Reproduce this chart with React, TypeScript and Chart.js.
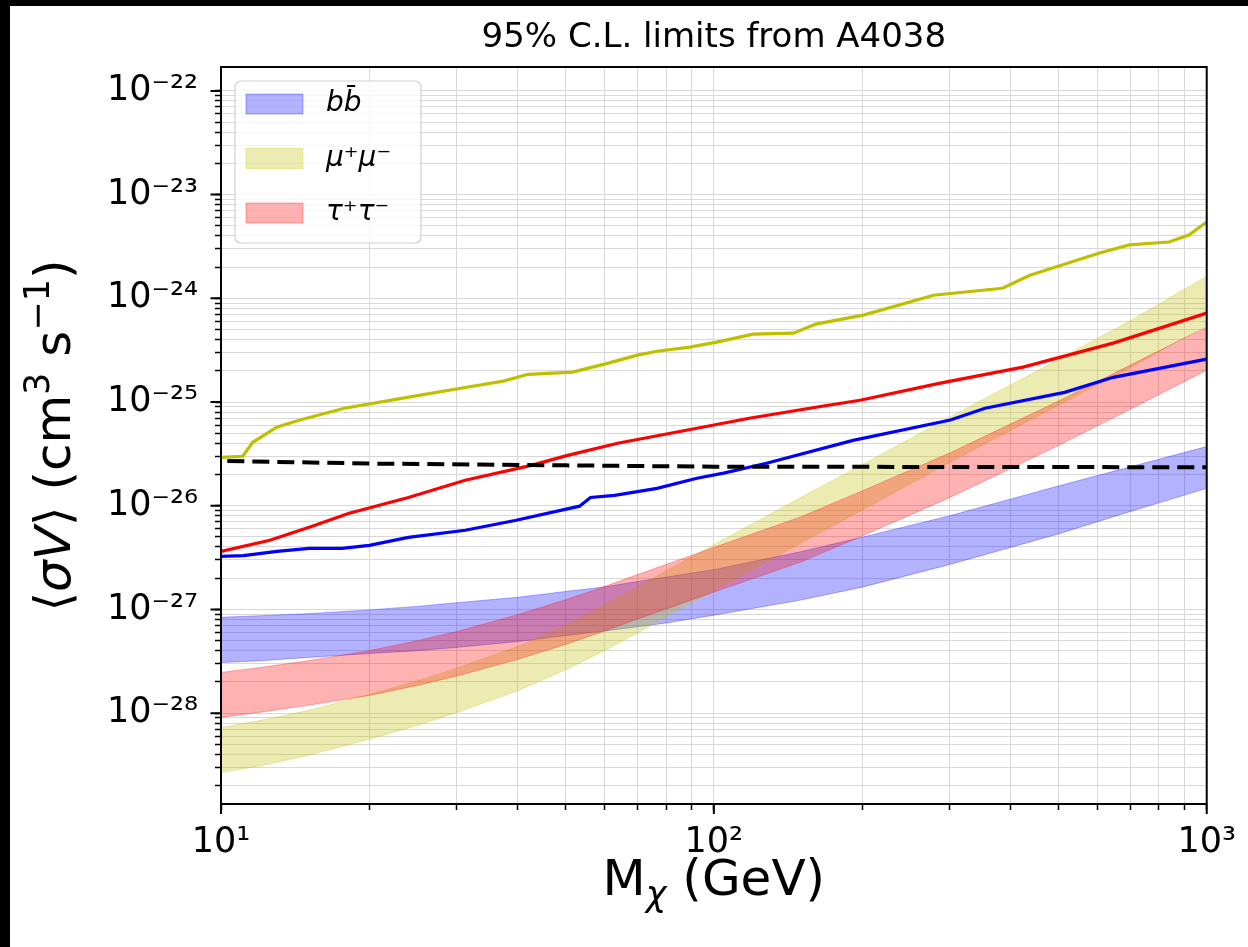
import React, { useEffect, useRef } from 'react';
import { Chart, registerables } from 'chart.js';

Chart.register(...registerables);

// ---------- data ----------
const bandMass = [10, 12, 15, 20, 25, 30, 40, 50, 60, 70, 80, 100, 150, 200, 300, 500, 700, 1000];
const bbBandHigh = [8.4e-28, 8.7e-28, 9.1e-28, 9.9e-28, 1.07e-27, 1.16e-27, 1.31e-27, 1.49e-27, 1.65e-27, 1.86e-27, 2.05e-27, 2.42e-27, 3.6e-27, 4.97e-27, 7.97e-27, 1.55e-26, 2.37e-26, 3.72e-26];
const bbBandLow = [3.08e-28, 3.2e-28, 3.44e-28, 3.76e-28, 4.0e-28, 4.3e-28, 4.9e-28, 5.6e-28, 6.2e-28, 6.8e-28, 7.4e-28, 8.8e-28, 1.23e-27, 1.64e-27, 2.7e-27, 5.35e-27, 8.8e-27, 1.47e-26];
const muBandHigh = [7.26e-29, 8.5e-29, 1.06e-28, 1.51e-28, 2.04e-28, 2.7e-28, 4.4e-28, 7.0e-28, 1.1e-27, 1.65e-27, 2.35e-27, 4.2e-27, 1.2e-26, 2.49e-26, 7.1e-26, 2.57e-25, 6.1e-25, 1.63e-24];
const muBandLow = [2.67e-29, 3.1e-29, 3.9e-29, 5.6e-29, 7.6e-29, 1.01e-28, 1.64e-28, 2.6e-28, 4.0e-28, 5.94e-28, 8.5e-28, 1.52e-27, 4.35e-27, 9.1e-27, 2.6e-26, 9.3e-26, 2.15e-25, 5.5e-25];
const tauBandHigh = [2.47e-28, 2.75e-28, 3.2e-28, 4.0e-28, 5.0e-28, 6.1e-28, 8.9e-28, 1.24e-27, 1.66e-27, 2.17e-27, 2.71e-27, 3.96e-27, 7.8e-27, 1.39e-26, 3.2e-26, 1.02e-25, 2.27e-25, 5.3e-25];
const tauBandLow = [9.1e-29, 1.02e-28, 1.19e-28, 1.48e-28, 1.85e-28, 2.27e-28, 3.3e-28, 4.6e-28, 6.2e-28, 8.1e-28, 1.01e-27, 1.47e-27, 2.86e-27, 5.1e-27, 1.19e-26, 3.8e-26, 8.5e-26, 2.03e-25];

const relicMass = [10.3, 20, 50, 100, 1000];
const relicValue = [2.7e-26, 2.55e-26, 2.45e-26, 2.38e-26, 2.35e-26];

const bbLineMass = [10, 11.1, 13, 15.1, 17.6, 20, 24, 31.3, 39.5, 53.4, 56.2, 62.9, 76.7, 92.4, 104.7, 127.9, 191.6, 302, 355, 515, 646, 1000];
const bbLineValue = [3.25e-27, 3.3e-27, 3.63e-27, 3.88e-27, 3.88e-27, 4.15e-27, 4.95e-27, 5.8e-27, 7.2e-27, 9.9e-27, 1.2e-26, 1.26e-26, 1.47e-26, 1.84e-26, 2.06e-26, 2.57e-26, 4.27e-26, 6.7e-26, 8.7e-26, 1.24e-25, 1.73e-25, 2.59e-25];

const tauLineMass = [10, 12.56, 15.1, 18.2, 24, 31.3, 42.6, 50.5, 63.8, 92.4, 118, 161, 198, 288, 424, 646, 1000];
const tauLineValue = [3.63e-27, 4.64e-27, 6.19e-27, 8.45e-27, 1.2e-26, 1.76e-26, 2.45e-26, 3.06e-26, 4.0e-26, 5.59e-26, 6.98e-26, 8.9e-26, 1.04e-25, 1.52e-25, 2.17e-25, 3.7e-25, 7.2e-25];

const muLineMass = [10, 11.07, 11.6, 12.97, 14.4, 17.8, 25.2, 33.3, 37.4, 42, 51.7, 60, 70, 76.7, 89.4, 101.4, 120, 145, 161, 201, 279, 385, 438, 606, 697, 838, 920, 1000];
const muLineValue = [2.93e-26, 3.0e-26, 4.09e-26, 5.71e-26, 6.67e-26, 8.7e-26, 1.16e-25, 1.45e-25, 1.59e-25, 1.85e-25, 1.94e-25, 2.32e-25, 2.83e-25, 3.09e-25, 3.38e-25, 3.78e-25, 4.51e-25, 4.61e-25, 5.64e-25, 6.89e-25, 1.07e-24, 1.25e-24, 1.67e-24, 2.73e-24, 3.27e-24, 3.49e-24, 4.07e-24, 5.45e-24];

const legendLabels = ['bb\u0304', 'μ⁺μ⁻', 'τ⁺τ⁻'];
const legendColors = ['rgba(0,0,255,0.3)', 'rgba(191,191,0,0.3)', 'rgba(255,0,0,0.3)'];

const titleText = '95% C.L. limits from A4038';

type Part = { t: string; it?: boolean; sup?: boolean; sub?: boolean };
// ⟨σV⟩ (cm³ s⁻¹)
const yTitleParts: Part[] = [
  { t: '⟨' }, { t: 'σV', it: true }, { t: '⟩ (cm' }, { t: '3', sup: true }, { t: ' s' }, { t: '−1', sup: true }, { t: ')' },
];
// M_χ (GeV)
const xTitleParts: Part[] = [{ t: 'M' }, { t: 'χ', it: true, sub: true }, { t: ' (GeV)' }];

const X_MIN = 10;
const X_MAX = 1000;
const Y_MIN = 1.33e-29;
const Y_MAX = 1.7e-22;

const xMajor = [10, 100, 1000];
const yMajor = [1e-28, 1e-27, 1e-26, 1e-25, 1e-24, 1e-23, 1e-22];

function decadeTicks(lo: number, hi: number, eMin: number, eMax: number): number[] {
  const out: number[] = [];
  for (let e = eMin; e <= eMax; e++) {
    for (let m = 1; m <= 9; m++) {
      const v = parseFloat(`${m}e${e}`);
      if (v >= lo * 0.999999 && v <= hi * 1.000001) out.push(v);
    }
  }
  return out;
}
const xTicks = decadeTicks(X_MIN, X_MAX, 1, 3);
const yTicks = decadeTicks(Y_MIN, Y_MAX, -29, -22);

const SUP: Record<string, string> = {
  '0': '⁰', '1': '¹', '2': '²', '3': '³', '4': '⁴', '5': '⁵', '6': '⁶', '7': '⁷', '8': '⁸', '9': '⁹', '-': '⁻',
};
function pow10Label(v: number): string {
  const l = Math.log10(v);
  const e = Math.round(l);
  if (Math.abs(l - e) > 1e-6) return '';
  return '10' + String(e).split('').map((c) => SUP[c]).join('');
}

const pts = (xs: number[], ys: number[]) => xs.map((x, i) => ({ x, y: ys[i] }));

const FONT = '"DejaVu Sans", sans-serif';

function drawRich(ctx: CanvasRenderingContext2D, parts: Part[], size: number) {
  const fontOf = (p: Part) => `${p.it ? 'italic ' : ''}${p.sup || p.sub ? size * 0.7 : size}px ${FONT}`;
  let total = 0;
  const widths = parts.map((p) => {
    ctx.font = fontOf(p);
    const w = ctx.measureText(p.t).width;
    total += w;
    return w;
  });
  let x = -total / 2;
  const base = size * 0.33;
  ctx.textAlign = 'left';
  ctx.textBaseline = 'alphabetic';
  ctx.fillStyle = '#000';
  parts.forEach((p, i) => {
    ctx.font = fontOf(p);
    const dy = p.sup ? -size * 0.42 : p.sub ? size * 0.22 : 0;
    ctx.fillText(p.t, x, base + dy);
    x += widths[i];
  });
}

const framePlugin = {
  id: 'frame',
  afterLayout(chart: any) {
    const tb = chart.titleBlock;
    if (tb) {
      tb.left = chart.chartArea.left;
      tb.right = chart.chartArea.right;
      tb.width = tb.right - tb.left;
    }
  },
  afterDraw(chart: any) {
    const { ctx, chartArea: a, scales } = chart;
    ctx.save();
    ctx.strokeStyle = '#000';
    ctx.lineWidth = 2;
    ctx.beginPath();
    for (const v of xMajor) {
      const px = scales.x.getPixelForValue(v);
      ctx.moveTo(px, a.bottom);
      ctx.lineTo(px, a.bottom + 10);
    }
    for (const v of yMajor) {
      const py = scales.y.getPixelForValue(v);
      ctx.moveTo(a.left, py);
      ctx.lineTo(a.left - 10.5, py);
    }
    ctx.stroke();
    ctx.strokeRect(a.left, a.top, a.right - a.left, a.bottom - a.top);

    // axis titles
    ctx.save();
    ctx.translate((a.left + a.right) / 2, 872);
    drawRich(ctx, xTitleParts, 50);
    ctx.restore();
    ctx.save();
    ctx.translate(43, (a.top + a.bottom) / 2);
    ctx.rotate(-Math.PI / 2);
    drawRich(ctx, yTitleParts, 50);
    ctx.restore();

    // legend
    const bx = a.left + 14;
    const by = a.top + 14;
    const bw = 186;
    const bh = 162;
    const r = 6;
    ctx.beginPath();
    ctx.moveTo(bx + r, by);
    ctx.lineTo(bx + bw - r, by);
    ctx.arcTo(bx + bw, by, bx + bw, by + r, r);
    ctx.lineTo(bx + bw, by + bh - r);
    ctx.arcTo(bx + bw, by + bh, bx + bw - r, by + bh, r);
    ctx.lineTo(bx + r, by + bh);
    ctx.arcTo(bx, by + bh, bx, by + bh - r, r);
    ctx.lineTo(bx, by + r);
    ctx.arcTo(bx, by, bx + r, by, r);
    ctx.closePath();
    ctx.fillStyle = 'rgba(255,255,255,0.8)';
    ctx.fill();
    ctx.strokeStyle = '#d0d0d0';
    ctx.lineWidth = 1.2;
    ctx.stroke();

    ctx.font = `italic 28px ${FONT}`;
    ctx.textBaseline = 'middle';
    ctx.textAlign = 'left';
    legendLabels.forEach((lab, i) => {
      const cy = by + 23 + i * 54.5;
      ctx.fillStyle = legendColors[i];
      ctx.fillRect(bx + 11, cy - 10, 57, 20);
      ctx.strokeStyle = legendColors[i];
      ctx.lineWidth = 1;
      ctx.strokeRect(bx + 11, cy - 10, 57, 20);
      ctx.fillStyle = '#000';
      ctx.fillText(lab, bx + 91, cy);
    });
    ctx.restore();
  },
};

export default function App() {
  const ref = useRef<HTMLCanvasElement | null>(null);

  useEffect(() => {
    if (!ref.current) return;
    Chart.defaults.font.family = FONT;
    Chart.defaults.color = '#000';

    const bandBase = { pointRadius: 0, tension: 0, borderWidth: 1 };
    const chart = new Chart(ref.current, {
      type: 'line',
      data: {
        datasets: [
          { label: 'bb low', data: pts(bandMass, bbBandLow), ...bandBase, borderColor: legendColors[0], fill: false, order: 31 },
          { label: legendLabels[0], data: pts(bandMass, bbBandHigh), ...bandBase, borderColor: legendColors[0], backgroundColor: legendColors[0], fill: { target: 0 }, order: 30 },
          { label: 'mu low', data: pts(bandMass, muBandLow), ...bandBase, borderColor: legendColors[1], fill: false, order: 21 },
          { label: legendLabels[1], data: pts(bandMass, muBandHigh), ...bandBase, borderColor: legendColors[1], backgroundColor: legendColors[1], fill: { target: 2 }, order: 20 },
          { label: 'tau low', data: pts(bandMass, tauBandLow), ...bandBase, borderColor: legendColors[2], fill: false, order: 11 },
          { label: legendLabels[2], data: pts(bandMass, tauBandHigh), ...bandBase, borderColor: legendColors[2], backgroundColor: legendColors[2], fill: { target: 4 }, order: 10 },
          { label: 'bb limit', data: pts(bbLineMass, bbLineValue), borderColor: '#0000ff', borderWidth: 3.2, pointRadius: 0, tension: 0, fill: false, order: 4 },
          { label: 'mu limit', data: pts(muLineMass, muLineValue), borderColor: '#bfbf00', borderWidth: 3.2, pointRadius: 0, tension: 0, fill: false, order: 3 },
          { label: 'tau limit', data: pts(tauLineMass, tauLineValue), borderColor: '#ff0000', borderWidth: 3.2, pointRadius: 0, tension: 0, fill: false, order: 2 },
          { label: 'thermal relic', data: pts(relicMass, relicValue), borderColor: '#000000', borderWidth: 4, borderDash: [17, 8], pointRadius: 0, tension: 0, fill: false, order: 1 },
        ],
      },
      options: {
        responsive: false,
        devicePixelRatio: 1,
        animation: false,
        events: [],
        layout: { padding: { left: 0, right: 35, top: 0, bottom: 0 } },
        plugins: {
          legend: { display: false },
          tooltip: { enabled: false },
          title: {
            display: true,
            text: titleText,
            color: '#000',
            font: { size: 34, family: FONT, weight: 'normal' },
            padding: { top: 11.6, bottom: 8.6 },
          },
        },
        scales: {
          x: {
            type: 'logarithmic',
            min: X_MIN,
            max: X_MAX,
            bounds: 'data',
            afterBuildTicks: (s: any) => {
              s.ticks = xTicks.map((v) => ({ value: v }));
            },
            afterFit: (s: any) => {
              s.height = 143;
            },
            ticks: {
              autoSkip: false,
              maxRotation: 0,
              minRotation: 0,
              padding: 12,
              color: '#000',
              font: { size: 35, family: FONT },
              callback: (v: any) => pow10Label(Number(v)),
            },
            grid: { color: '#d8d8d8', lineWidth: 1, drawTicks: true, tickLength: 6, tickColor: '#000', tickWidth: 1.5 },
            border: { display: true, color: '#000', width: 2 },
            title: { display: false },
          },
          y: {
            type: 'logarithmic',
            min: Y_MIN,
            max: Y_MAX,
            bounds: 'data',
            afterBuildTicks: (s: any) => {
              s.ticks = yTicks.map((v) => ({ value: v }));
            },
            afterFit: (s: any) => {
              s.width = 211;
            },
            ticks: {
              autoSkip: false,
              padding: 17,
              color: '#000',
              font: { size: 35, family: FONT },
              callback: (v: any) => pow10Label(Number(v)),
            },
            grid: { color: '#d8d8d8', lineWidth: 1, drawTicks: true, tickLength: 6, tickColor: '#000', tickWidth: 1.5 },
            border: { display: true, color: '#000', width: 2 },
            title: { display: false },
          },
        },
      } as any,
      plugins: [framePlugin],
    });
    return () => chart.destroy();
  }, []);

  return (
    <div style={{ position: 'fixed', left: 0, top: 0, width: 1248, height: 947, background: '#000', overflow: 'hidden' }}>
      <div style={{ position: 'absolute', left: 10, top: 6, width: 1238, height: 941, background: '#fff' }}>
        <canvas ref={ref} width={1238} height={941} style={{ display: 'block', width: 1238, height: 941 }} />
      </div>
    </div>
  );
}
